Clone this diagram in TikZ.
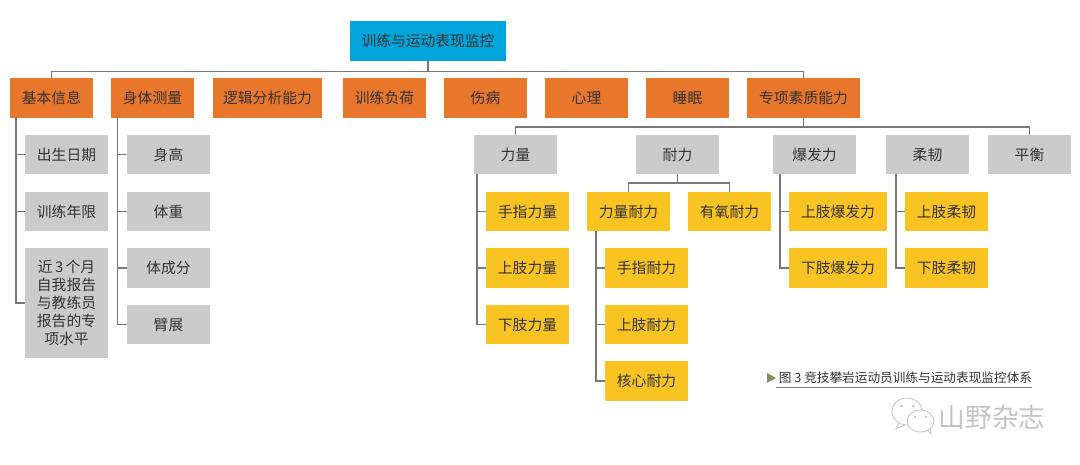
\documentclass[tikz,border=0pt]{standalone}
\usepackage{fontspec}
\setmainfont{Noto Sans CJK SC}
\definecolor{rootblue}{HTML}{00A5DB}
\definecolor{mainorange}{HTML}{E8762B}
\definecolor{subgray}{HTML}{CBCBCB}
\definecolor{itemyellow}{HTML}{F9C422}
\definecolor{linegray}{HTML}{777777}
\definecolor{textgray}{HTML}{333333}
\definecolor{markgreen}{HTML}{7F8F5F}
\definecolor{markgray}{HTML}{C4C4C4}
\tikzset{
    box/.style={inner sep=0pt, align=center, text=textgray, minimum width=2.075cm, minimum height=0.975cm,
        font=\fontsize{10.5}{12.9}\selectfont},
    rootbox/.style={box, fill=rootblue, minimum width=3.9cm},
    mainbox/.style={box, fill=mainorange},
    subbox/.style={box, fill=subgray},
    itembox/.style={box, fill=itemyellow},
    link/.style={draw=linegray, line width=0.8pt},
    bubble/.style={draw=markgray, fill=white, line width=0.6pt}
}
\begin{document}
\begin{tikzpicture}[x=0.025cm, y=-0.025cm]
    \useasboundingbox (0,0) rectangle (1080,465);

    % Root
    \node at (428,41) (root) [rootbox] {训练与运动表现监控};

    % Nodes for the main row
    \node at (51.5,98) (jiben) [mainbox] {基本信息};
    \node at (152.5,98) (shenti) [mainbox] {身体测量};
    \node at (267.5,98) (luoji) [mainbox, minimum width=2.725cm] {逻辑分析能力};
    \node at (384.5,98) (fuhe) [mainbox] {训练负荷};
    \node at (485.5,98) (shang) [mainbox] {伤病};
    \node at (586.5,98) (xinli) [mainbox] {心理};
    \node at (687.5,98) (shuimian) [mainbox] {睡眠};
    \node at (803.5,98) (zhuanxiang) [mainbox, minimum width=2.825cm] {专项素质能力};

    % Nodes under the first two main boxes
    \node at (66.5,154.5) (chusheng) [subbox] {出生日期};
    \node at (66.5,211.5) (nianxian) [subbox] {训练年限};
    \node at (66.5,303) (ziwo) [subbox, minimum height=2.75cm] {近\,3\,个月\\自我报告\\与教练员\\报告的专\\项水平};
    \node at (168.5,154.5) (shengao) [subbox] {身高};
    \node at (168.5,211.5) (tizhong) [subbox] {体重};
    \node at (168.5,268) (chengfen) [subbox] {体成分};
    \node at (168.5,324.5) (bizhan) [subbox] {臂展};

    % Nodes for the quality row
    \node at (515.5,154.5) (liliang) [subbox] {力量};
    \node at (677.5,154.5) (naili) [subbox] {耐力};
    \node at (814.5,154.5) (baofa) [subbox] {爆发力};
    \node at (927.5,154.5) (rouren) [subbox] {柔韧};
    \node at (1029.5,154.5) (pingheng) [subbox] {平衡};

    % Strength
    \node at (527.5,211.5) (ll1) [itembox] {手指力量};
    \node at (527.5,268) (ll2) [itembox] {上肢力量};
    \node at (527.5,324.5) (ll3) [itembox] {下肢力量};

    % Endurance
    \node at (628.5,211.5) (llnl) [itembox] {力量耐力};
    \node at (729.5,211.5) (yynl) [itembox] {有氧耐力};
    \node at (646.5,268) (nl1) [itembox] {手指耐力};
    \node at (646.5,324.5) (nl2) [itembox] {上肢耐力};
    \node at (646.5,381) (nl3) [itembox] {核心耐力};

    % Power and flexibility
    \node at (838,211.5) (bf1) [itembox, minimum width=2.45cm] {上肢爆发力};
    \node at (838,268) (bf2) [itembox, minimum width=2.45cm] {下肢爆发力};
    \node at (946.5,211.5) (rr1) [itembox] {上肢柔韧};
    \node at (946.5,268) (rr2) [itembox] {下肢柔韧};

    % Coordinates for the buses and trunks
    \coordinate (rootbus) at (428,71.5);
    \coordinate (qualbus) at (803.5,127);
    \coordinate (nailibus) at (677.5,183);
    \coordinate (jibentrunk) at (16,117);
    \coordinate (shentitrunk) at (117.5,117);
    \coordinate (lltrunk) at (477,174);
    \coordinate (nltrunk) at (596,231);
    \coordinate (bftrunk) at (780,174);
    \coordinate (rrtrunk) at (896,174);

    % Lines from the root
    \draw[link] (root) -- (rootbus);
    \draw[link] (rootbus) -| (jiben);
    \draw[link] (rootbus) -| (zhuanxiang);

    % Lines from the quality box
    \draw[link] (zhuanxiang) -- (qualbus);
    \draw[link] (qualbus) -| (liliang);
    \draw[link] (qualbus) -| (pingheng);

    % Lines from the endurance box
    \draw[link] (naili) -- (nailibus);
    \draw[link] (nailibus) -| (llnl);
    \draw[link] (nailibus) -| (yynl);

    % Trunks
    \foreach \from/\to in {jibentrunk/chusheng, jibentrunk/nianxian, jibentrunk/ziwo,
        shentitrunk/shengao, shentitrunk/tizhong, shentitrunk/chengfen, shentitrunk/bizhan,
        lltrunk/ll1, lltrunk/ll2, lltrunk/ll3,
        nltrunk/nl1, nltrunk/nl2, nltrunk/nl3,
        bftrunk/bf1, bftrunk/bf2, rrtrunk/rr1, rrtrunk/rr2}
        \draw[link] (\from) |- (\to);

    % Caption
    \fill[markgreen] (767,373) -- (776,378) -- (767,383) -- cycle;
    \node at (905.5,378) (caption) [inner sep=0pt, text=textgray, font=\fontsize{9}{11}\selectfont] {图 3 竞技攀岩运动员训练与运动表现监控体系};
    \draw[draw=gray, line width=0.7pt] (776,387) -- (1032,387);

    % Watermark
    \draw[bubble] (899,422) -- (896,429) -- (905,425);
    \draw[bubble] (907,411.5) ellipse (15 and 13.5);
    \fill[markgray] (901,406) circle (1.5) (913,406) circle (1.5);
    \draw[bubble] (925,428) -- (931,434) -- (930,425);
    \draw[bubble] (920.5,421) ellipse (13.5 and 11);
    \fill[markgray] (915,417) circle (1.3) (926,417) circle (1.3);
    \node at (992,417) (mark) [inner sep=0pt, text=markgray, font=\fontsize{19}{22}\selectfont] {山野杂志};
\end{tikzpicture}
\end{document}
